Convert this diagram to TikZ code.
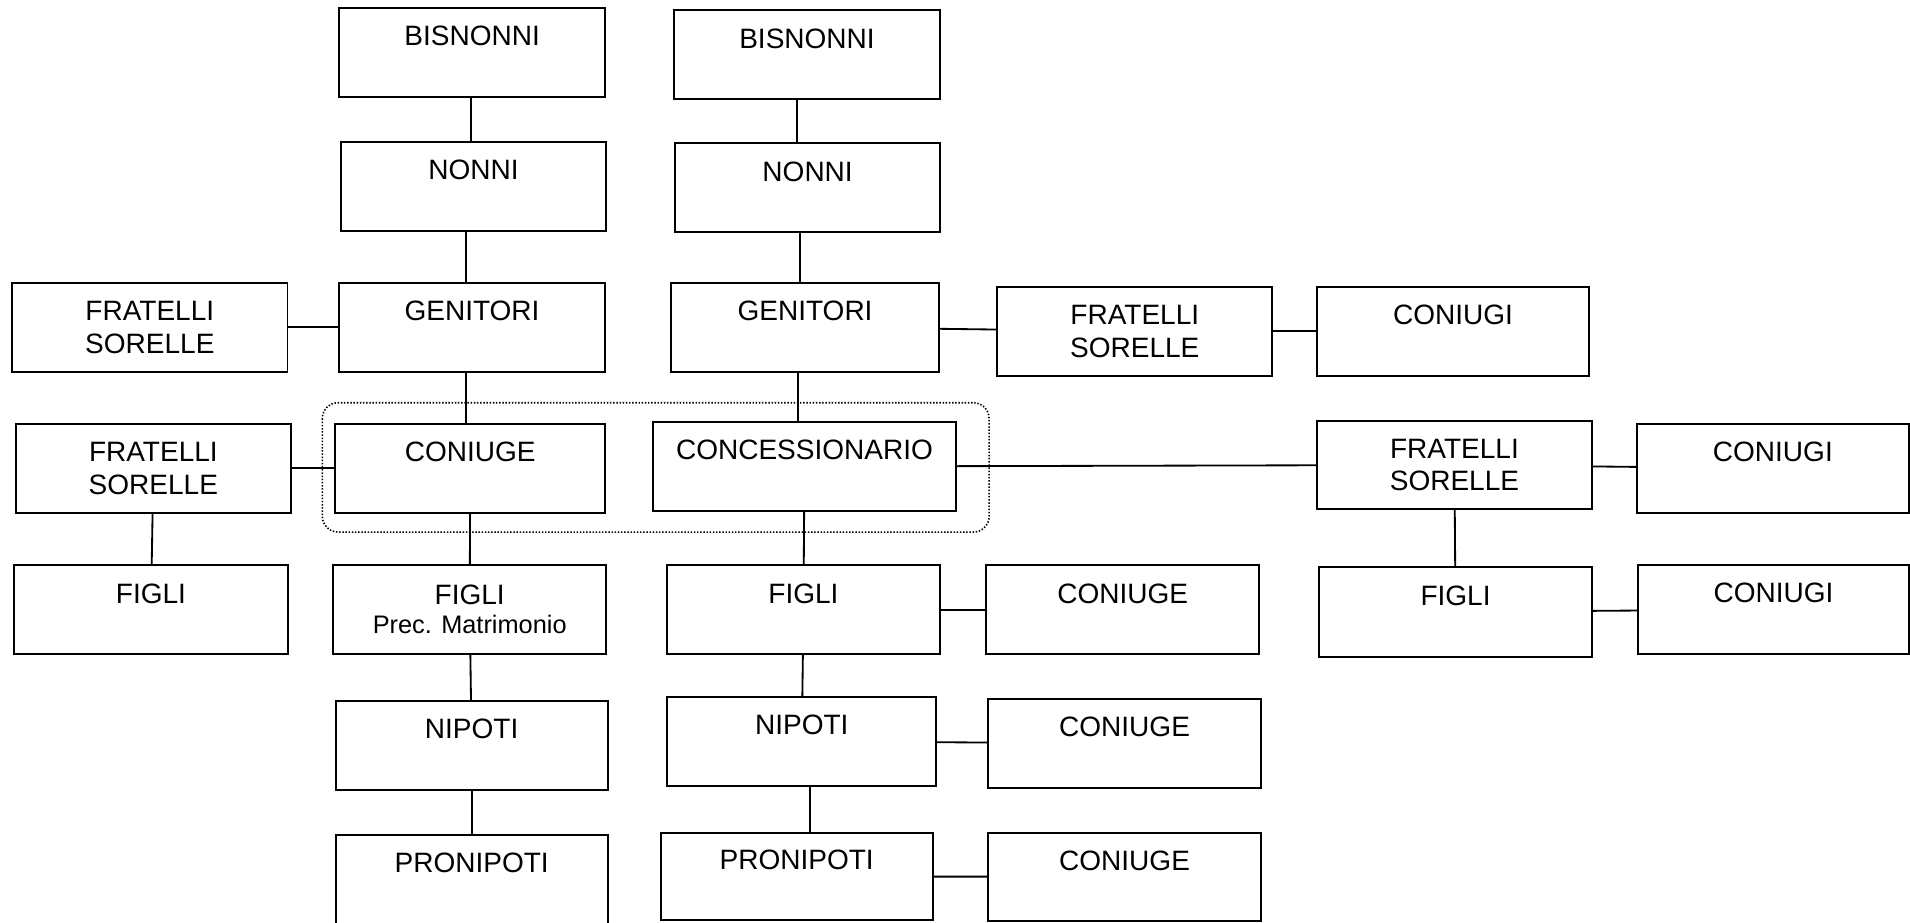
\documentclass[tikz,border=0pt]{standalone}
\usepackage{fontspec}
\setmainfont{Liberation Sans}

\begin{document}
\begin{tikzpicture}[x=1pt, y=-1pt, line width=1.5pt, line cap=round,
  box/.style={draw, line width=1.6pt, line cap=butt, rectangle, inner sep=0pt,
    minimum height=73, align=center, font=\fontsize{23}{27}\selectfont},
  frame/.style={dash pattern=on 1.2pt off 1.4pt, line cap=butt, line width=1.3pt, rounded corners=13pt}]

  %% ════ cornice tratteggiata (coniuge + concessionario) ════
  \draw[frame] (264.6,330.6) rectangle (812.0,436.8);

  %% ════ colonna sinistra ════
  \node[box, minimum width=218.7, minimum height=73.3] (bisA) at (387.6,43.2)  {BISNONNI\\~};
  \node[box, minimum width=217.5] (nonA)  at (388.7,153.0) {NONNI\\~};
  \node[box, minimum width=219.0] (genA)  at (387.5,268.5) {GENITORI\\~};
  \node[box, minimum width=222.0] (con)   at (386.0,384.5) {CONIUGE\\~};
  \node[box, minimum width=223.9] (figP)  at (385.6,500.5) {FIGLI\\[-3pt]{\fontsize{20.8}{24}\selectfont Prec. Matrimonio}};
  \node[box, minimum width=223.5] (nipA)  at (387.2,612.0) {NIPOTI\\~};
  \node[box, minimum width=223.5] (pronA) at (387.2,722.1) {PRONIPOTI\\~};

  %% ════ fratelli del coniuge (bordo sinistro) ════
  \node[box, minimum width=226.0] (fsL1) at (123.0,268.5) {FRATELLI\\SORELLE};
  \node[box, minimum width=226.3] (fsL2) at (125.9,384.5) {FRATELLI\\SORELLE};
  \node[box, minimum width=224.3] (figL) at (123.9,500.5) {FIGLI\\~};

  %% ════ colonna del concessionario ════
  \node[box, minimum width=219.0] (bisB)  at (662.5,45.0)  {BISNONNI\\~};
  \node[box, minimum width=218.0] (nonB)  at (663.0,154.2) {NONNI\\~};
  \node[box, minimum width=219.8] (genB)  at (660.9,268.5) {GENITORI\\~};
  \node[box, minimum width=249.2] (conc)  at (660.4,383.0) {CONCESSIONARIO\\~};
  \node[box, minimum width=223.6] (figB)  at (659.6,500.5) {FIGLI\\~};
  \node[box, minimum width=220.7] (nipB)  at (658.2,608.6) {NIPOTI\\~};
  \node[box, minimum width=223.2, minimum height=71.8] (pronB) at (654.0,719.5) {PRONIPOTI\\~};

  %% ════ coniugi dei discendenti ════
  \node[box, minimum width=224.2] (ceF) at (921.7,500.5) {CONIUGE\\~};
  \node[box, minimum width=223.5, minimum height=72.7] (ceN) at (923.2,610.3) {CONIUGE\\~};
  \node[box, minimum width=223.5, minimum height=72.4] (ceP) at (923.2,719.8) {CONIUGE\\~};

  %% ════ ramo destro ════
  \node[box, minimum width=225.8] (fsT) at (931.6,272.0)  {FRATELLI\\SORELLE};
  \node[box, minimum width=223.6] (cgT) at (1192.8,272.0) {CONIUGI\\~};
  \node[box, minimum width=226.0, minimum height=72.6] (fsR) at (1194.0,381.7) {FRATELLI\\SORELLE};
  \node[box, minimum width=223.3] (cgM) at (1455.4,384.5) {CONIUGI\\~};
  \node[box, minimum width=224.1, minimum height=73.4] (figR) at (1194.9,502.3) {FIGLI\\~};
  \node[box, minimum width=222.0] (cgB) at (1456.0,500.4) {CONIUGI\\~};

  %% ════ collegamenti verticali ════
  \draw ([xshift=-1pt]bisA.south) -- ([xshift=-1pt]bisA.south |- nonA.north);
  \draw ([xshift=-6pt]nonA.south) -- ([xshift=-6pt]nonA.south |- genA.north);
  \draw ([xshift=-5pt]genA.south) -- ([xshift=-5pt]genA.south |- con.north);
  \draw (con) -- (figP);
  \draw (figP) -- (nipA);
  \draw (nipA) -- (pronA);
  \draw ([xshift=-8pt]bisB.south) -- ([xshift=-8pt]bisB.south |- nonB.north);
  \draw ([xshift=-6pt]nonB.south) -- ([xshift=-6pt]nonB.south |- genB.north);
  \draw ([xshift=-6pt]genB.south) -- ([xshift=-6pt]genB.south |- conc.north);
  \draw (conc) -- (figB);
  \draw (figB) -- (nipB);
  \draw ([xshift=7pt]nipB.south) -- ([xshift=7pt]nipB.south |- pronB.north);
  \draw (fsL2) -- (figL);
  \draw (fsR) -- (figR);

  %% ════ collegamenti orizzontali ════
  \draw (fsL1) -- (genA);
  \draw (fsL2) -- (con);
  \draw (genB) -- (fsT);
  \draw (fsT)  -- (cgT);
  \draw (conc) -- (fsR);
  \draw (fsR)  -- (cgM);
  \draw (figB) -- (ceF);
  \draw (figR) -- (cgB);
  \draw (nipB) -- (ceN);
  \draw (pronB) -- (ceP);

  % tela fissa, come il riferimento
  \pgfresetboundingbox
  \path[use as bounding box] (0,0) rectangle (1568,757);
\end{tikzpicture}
\end{document}
